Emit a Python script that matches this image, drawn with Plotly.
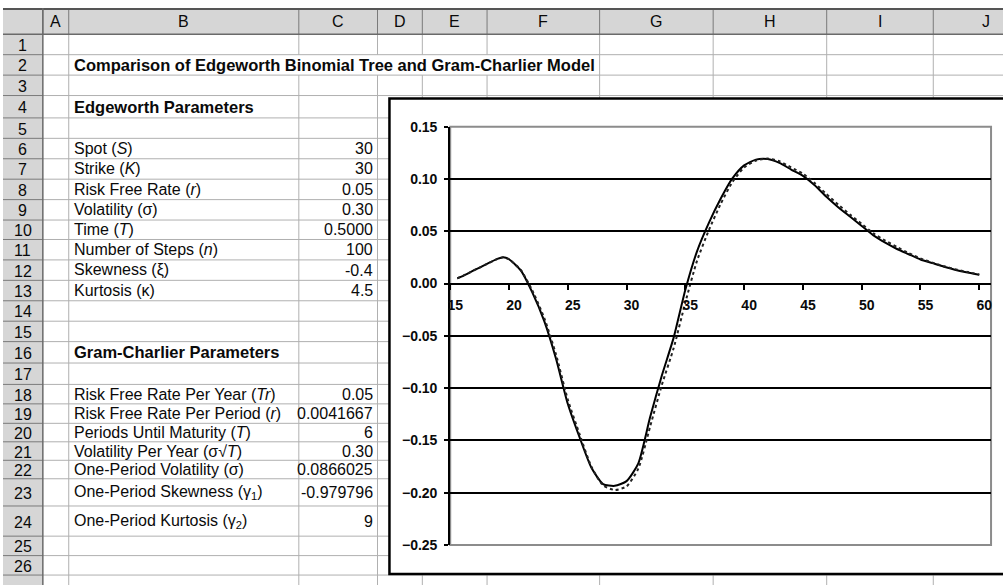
import plotly.graph_objects as go

W, H = 1003, 585

# ---------------- chart series ----------------
strike = [15.6, 16, 17, 18, 19, 19.5, 20, 21, 22, 23, 24, 25, 26, 27, 28, 29, 30,
          31, 32, 33, 34, 35, 36, 37, 38, 39, 40, 41, 42, 43, 44, 45, 46, 47, 48,
          49, 50, 51, 52, 53, 54, 55, 56, 57, 58, 59, 60]
edgeworth_tree = [0.005, 0.0068, 0.0125, 0.018, 0.0235, 0.0252, 0.0232, 0.0125, -0.009,
                  -0.036, -0.072, -0.115, -0.147, -0.176, -0.1918, -0.1935, -0.189,
                  -0.172, -0.128, -0.088, -0.052, -0.006, 0.031, 0.058, 0.081, 0.1005,
                  0.113, 0.1185, 0.119, 0.1153, 0.109, 0.103, 0.094, 0.083, 0.073,
                  0.064, 0.055, 0.046, 0.039, 0.033, 0.028, 0.023, 0.0195, 0.016,
                  0.013, 0.0105, 0.0083]
gram_charlier = [0.005, 0.0068, 0.0125, 0.018, 0.0233, 0.025, 0.0232, 0.013, -0.007,
                 -0.033, -0.068, -0.111, -0.144, -0.175, -0.193, -0.1975, -0.194,
                 -0.177, -0.137, -0.097, -0.062, -0.018, 0.022, 0.051, 0.076, 0.097,
                 0.111, 0.1175, 0.1195, 0.117, 0.111, 0.105, 0.096, 0.0855, 0.0755,
                 0.066, 0.057, 0.048, 0.041, 0.035, 0.029, 0.024, 0.020, 0.0165,
                 0.0135, 0.011, 0.0085]
x_ticks = [15, 20, 25, 30, 35, 40, 45, 50, 55, 60]
y_ticks = [0.15, 0.10, 0.05, 0.00, -0.05, -0.10, -0.15, -0.20, -0.25]

# ---------------- worksheet contents ----------------
sheet_title = "Comparison of Edgeworth Binomial Tree and Gram-Charlier Model"
edgeworth_header = "Edgeworth Parameters"
edgeworth_labels = ["Spot (<i>S</i>)", "Strike (<i>K</i>)", "Risk Free Rate (<i>r</i>)",
                    "Volatility (σ)", "Time (<i>T</i>)", "Number of Steps (<i>n</i>)",
                    "Skewness (ξ)", "Kurtosis (κ)"]
edgeworth_values = ["30", "30", "0.05", "0.30", "0.5000", "100", "-0.4", "4.5"]
gc_header = "Gram-Charlier Parameters"
gc_labels = ["Risk Free Rate Per Year (<i>Tr</i>)", "Risk Free Rate Per Period (<i>r</i>)",
             "Periods Until Maturity (<i>T</i>)", "Volatility Per Year (σ√<i>T</i>)",
             "One-Period Volatility (σ)", "One-Period Skewness (γ<sub>1</sub>)",
             "One-Period Kurtosis (γ<sub>2</sub>)"]
gc_values = ["0.05", "0.0041667", "6", "0.30", "0.0866025", "-0.979796", "9"]
col_letters = ["A", "B", "C", "D", "E", "F", "G", "H", "I", "J"]

# worksheet geometry in pixels
col_edges = [0, 40, 66, 297, 376, 421, 486, 599, 713, 827, 934, 1040]
row_edges = [27, 48, 69, 90, 113, 134, 155, 176, 197, 218, 238, 259, 280, 301, 322,
             343, 365, 387, 407, 427, 446, 465, 484, 512, 543, 563, 583]
chart_box = (388, 93, 1010, 582)
plot_px = (449, 122, 992, 552)   # left, top, right, bottom of the plot area


def fx(px):
    return px / W


def fy(py):
    return 1 - py / H


FONT = "Arial, Liberation Sans, sans-serif"
GRID = "#b0b0b0"
HEAD_BG = "#d6d6d6"
HEAD_LINE = "#7a7a7a"

shapes = []


def line(x0, y0, x1, y1, color, width=1):
    shapes.append(dict(type="line", xref="paper", yref="paper", layer="below",
                       x0=fx(x0), y0=fy(y0), x1=fx(x1), y1=fy(y1),
                       line=dict(color=color, width=width)))


def rect(x0, y0, x1, y1, fill, color=None, width=0):
    shapes.append(dict(type="rect", xref="paper", yref="paper", layer="below",
                       x0=fx(x0), y0=fy(y0), x1=fx(x1), y1=fy(y1),
                       fillcolor=fill,
                       line=dict(color=color or fill, width=width)))


# header bands
rect(0, 0, W + 10, row_edges[0], HEAD_BG)
rect(0, row_edges[0], col_edges[1], H + 10, HEAD_BG)

# cell grid lines
for r in row_edges[1:]:
    line(col_edges[1], r, W + 10, r, GRID)
row2_top, row2_bot = row_edges[1], row_edges[2]
for c in col_edges[2:-1]:
    if c in (297, 376, 421, 486):
        # the title in row 2 spills over these borders
        line(c, row_edges[0], c, row2_top, GRID)
        line(c, row2_bot, c, H + 10, GRID)
    else:
        line(c, row_edges[0], c, H + 10, GRID)

# header separators
for c in col_edges[1:-1]:
    line(c, 0, c, row_edges[0], HEAD_LINE)
for r in row_edges[1:]:
    line(0, r, col_edges[1], r, HEAD_LINE)
line(0, 1, W + 10, 1, "#555555", 2)
line(0, row_edges[0], W + 10, row_edges[0], "#6a6a6a", 1.5)
line(col_edges[1], 0, col_edges[1], H + 10, "#6a6a6a", 1.5)

# embedded chart: white box with black frame
rect(*chart_box, "white", "black", 2.5)
# plot area frame
rect(*plot_px, "white", "#8c8c8c", 2)

annotations = []


def text(px, py, s, anchor="left", size=16, bold=False, color="#0a0a0a"):
    annotations.append(dict(xref="paper", yref="paper", x=fx(px), y=fy(py),
                            text=f"<b>{s}</b>" if bold else s, showarrow=False,
                            xanchor=anchor, yanchor="middle",
                            font=dict(family=FONT, size=size, color=color)))


def row_mid(n):
    return (row_edges[n - 1] + row_edges[n]) / 2


for i, letter in enumerate(col_letters):
    text((col_edges[i + 1] + col_edges[i + 2]) / 2, 14, letter, "center", 16)
for n in range(1, 27):
    text(20, row_mid(n) + 1, str(n), "center", 16)

text(69, row_mid(2), sheet_title, size=16.5, bold=True)
text(69, row_mid(4), edgeworth_header, size=16.5, bold=True)
for k, (lab, val) in enumerate(zip(edgeworth_labels, edgeworth_values)):
    text(69, row_mid(6 + k), lab)
    text(373, row_mid(6 + k), val, "right")
text(69, row_mid(16), gc_header, size=16.5, bold=True)
for k, (lab, val) in enumerate(zip(gc_labels, gc_values)):
    text(69, row_mid(18 + k), lab)
    text(373, row_mid(18 + k), val, "right")

fig = go.Figure()
fig.add_trace(go.Scatter(x=strike, y=edgeworth_tree, mode="lines",
                         name="Edgeworth binomial tree",
                         line=dict(color="black", width=2, shape="spline",
                                   smoothing=0.6)))
fig.add_trace(go.Scatter(x=strike, y=gram_charlier, mode="lines",
                         name="Gram-Charlier",
                         line=dict(color="#222222", width=2, dash="dot",
                                   shape="spline", smoothing=0.6)))

zero_pos = fy(plot_px[3] - (0 - (-0.25)) / 0.40 * (plot_px[3] - plot_px[1]))

fig.update_layout(
    width=W, height=H,
    margin=dict(l=0, r=0, t=0, b=0),
    paper_bgcolor="white", plot_bgcolor="white",
    showlegend=False,
    shapes=shapes, annotations=annotations,
    xaxis=dict(domain=[fx(plot_px[0]), fx(plot_px[2])], range=[15, 61],
               anchor="free", position=zero_pos,
               tickvals=x_ticks, ticktext=[str(v) for v in x_ticks],
               showgrid=False, zeroline=False,
               showline=True, linecolor="black", linewidth=2,
               ticks="outside", ticklen=5, tickwidth=1.5, tickcolor="black",
               ticklabelshift=5, ticklabelstandoff=4,
               tickfont=dict(family=FONT, size=14, color="#0a0a0a", weight="bold")),
    yaxis=dict(domain=[fy(plot_px[3]), fy(plot_px[1])], range=[-0.25, 0.15],
               tickvals=y_ticks, tickformat=".2f",
               showgrid=True, gridcolor="black", gridwidth=2,
               zeroline=False,
               showline=True, linecolor="black", linewidth=2,
               ticks="outside", ticklen=4, tickwidth=1.5, tickcolor="black",
               ticklabelstandoff=4,
               tickfont=dict(family=FONT, size=14, color="#0a0a0a", weight="bold")),
)

fig.write_html("out.html")
